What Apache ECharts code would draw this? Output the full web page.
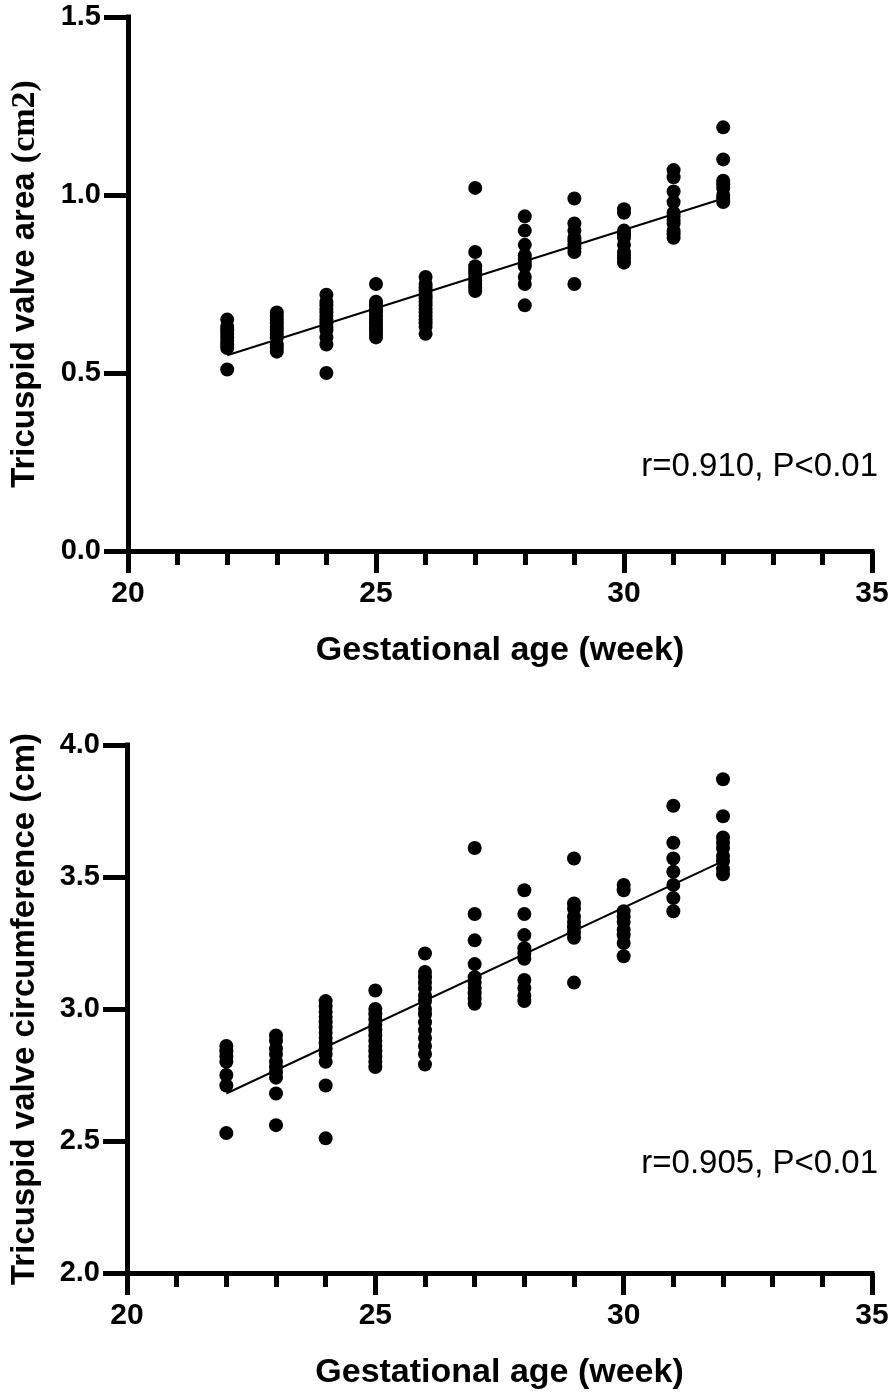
<!DOCTYPE html>
<html>
<head>
<meta charset="utf-8">
<script src="https://cdn.jsdelivr.net/npm/echarts@6/dist/echarts.min.js"></script>
<style>
html,body{margin:0;padding:0;background:#fff;}
#chart{width:894px;height:1398px;}
</style>
</head>
<body>
<div id="chart"></div>
<script>
// ---- data ----
const weeks = [22, 23, 24, 25, 26, 27, 28, 29, 30, 31, 32];
const xTicks = [20, 25, 30, 35];

// Tricuspid valve area (cm2), one list per gestational week
const areaValues = [
  [0.65, 0.63, 0.62, 0.61, 0.60, 0.59, 0.58, 0.57, 0.51],
  [0.67, 0.66, 0.65, 0.64, 0.63, 0.62, 0.61, 0.60, 0.58, 0.57, 0.56],
  [0.72, 0.70, 0.69, 0.68, 0.67, 0.66, 0.65, 0.64, 0.63, 0.62, 0.60, 0.58, 0.50],
  [0.75, 0.70, 0.69, 0.68, 0.67, 0.66, 0.65, 0.64, 0.63, 0.62, 0.61, 0.60],
  [0.77, 0.75, 0.74, 0.73, 0.72, 0.71, 0.70, 0.69, 0.68, 0.67, 0.66, 0.65, 0.64, 0.63, 0.61],
  [1.02, 0.84, 0.80, 0.79, 0.78, 0.77, 0.76, 0.75, 0.74, 0.73],
  [0.94, 0.90, 0.86, 0.83, 0.82, 0.81, 0.80, 0.77, 0.75, 0.69],
  [0.99, 0.92, 0.90, 0.88, 0.87, 0.86, 0.85, 0.84, 0.75],
  [0.96, 0.95, 0.90, 0.89, 0.88, 0.86, 0.84, 0.83, 0.82, 0.81],
  [1.07, 1.05, 1.01, 0.98, 0.95, 0.94, 0.93, 0.92, 0.90, 0.89, 0.88],
  [1.19, 1.10, 1.04, 1.03, 1.02, 1.00, 0.99, 0.98]
];

// Tricuspid valve circumference (cm), one list per gestational week
const circValues = [
  [2.86, 2.84, 2.82, 2.80, 2.75, 2.71, 2.53],
  [2.90, 2.88, 2.85, 2.83, 2.80, 2.78, 2.76, 2.74, 2.68, 2.56],
  [3.03, 3.01, 2.99, 2.97, 2.95, 2.93, 2.91, 2.89, 2.87, 2.85, 2.83, 2.80, 2.71, 2.51],
  [3.07, 3.00, 2.98, 2.96, 2.94, 2.92, 2.90, 2.88, 2.86, 2.84, 2.82, 2.80, 2.78],
  [3.21, 3.14, 3.12, 3.10, 3.08, 3.05, 3.03, 3.00, 2.98, 2.95, 2.92, 2.89, 2.86, 2.83, 2.79],
  [3.61, 3.36, 3.26, 3.17, 3.12, 3.10, 3.08, 3.06, 3.04, 3.02],
  [3.45, 3.36, 3.28, 3.23, 3.21, 3.19, 3.11, 3.08, 3.05, 3.03],
  [3.57, 3.40, 3.38, 3.35, 3.33, 3.31, 3.29, 3.27, 3.10],
  [3.47, 3.45, 3.37, 3.35, 3.33, 3.30, 3.28, 3.25, 3.20],
  [3.77, 3.63, 3.57, 3.52, 3.47, 3.42, 3.37],
  [3.87, 3.73, 3.65, 3.63, 3.61, 3.58, 3.56, 3.53, 3.51]
];

// regression line end points
const fitX = [22, 32];
const fitAreaY = [0.55, 0.99];
const fitCircY = [2.68, 3.56];

const statAreaText = 'r=0.910, P<0.01';
const statCircText = 'r=0.905, P<0.01';

// ---- build ----
function toPoints(values) {
  const pts = [];
  values.forEach((list, i) => list.forEach(v => pts.push([weeks[i], v])));
  return pts;
}
function toLine(ys) { return fitX.map((x, i) => [x, ys[i]]); }

const FONT = '"Liberation Sans", Arial, sans-serif';
const SERIF = '"Liberation Serif", "Times New Roman", serif';

function xAxisCfg(gridIndex) {
  return {
    type: 'value', gridIndex, min: xTicks[0], max: xTicks[xTicks.length - 1], interval: 5,
    axisLine: { show: true, onZero: false, lineStyle: { color: '#000', width: 5, cap: 'square' } },
    axisTick: { show: true, length: 22, lineStyle: { color: '#000', width: 5 } },
    minorTick: { show: true, splitNumber: 5, length: 14, lineStyle: { color: '#000', width: 5 } },
    splitLine: { show: false },
    axisLabel: { color: '#000', fontFamily: FONT, fontWeight: 'bold', fontSize: 30, margin: 28 },
    name: 'Gestational age (week)', nameLocation: 'middle', nameGap: 83,
    nameTextStyle: { color: '#000', fontFamily: FONT, fontWeight: 'bold', fontSize: 34 }
  };
}
function yAxisCfg(gridIndex, min, max, name, rich) {
  return {
    type: 'value', gridIndex, min, max, interval: 0.5,
    axisLine: { show: true, onZero: false, lineStyle: { color: '#000', width: 5, cap: 'square' } },
    axisTick: { show: true, length: 24, lineStyle: { color: '#000', width: 5 } },
    splitLine: { show: false },
    axisLabel: { color: '#000', fontFamily: FONT, fontWeight: 'bold', fontSize: 29, margin: 27,
      formatter: v => v.toFixed(1) },
    name, nameLocation: 'middle', nameGap: 86,
    nameTextStyle: { color: '#000', fontFamily: FONT, fontWeight: 'bold', fontSize: 33, rich }
  };
}

const chart = echarts.init(document.getElementById('chart'), null, { renderer: 'canvas' });
chart.setOption({
  backgroundColor: '#fff',
  animation: false,
  grid: [
    { left: 126, right: 22, top: 17, height: 534 },
    { left: 126, right: 22, top: 745, height: 528 }
  ],
  xAxis: [xAxisCfg(0), xAxisCfg(1)],
  yAxis: [
    yAxisCfg(0, 0, 1.5, '{s|Tricuspid valve area }{t|(cm2)}', {
      s: { fontFamily: FONT, fontWeight: 'bold', fontSize: 33, color: '#000' },
      t: { fontFamily: SERIF, fontWeight: 'bold', fontSize: 34, color: '#000' }
    }),
    yAxisCfg(1, 2, 4, 'Tricuspid valve circumference (cm)')
  ],
  series: [
    { type: 'scatter', xAxisIndex: 0, yAxisIndex: 0, data: toPoints(areaValues),
      symbol: 'circle', symbolSize: 14, itemStyle: { color: '#000', opacity: 1 }, z: 3 },
    { type: 'line', xAxisIndex: 0, yAxisIndex: 0, data: toLine(fitAreaY),
      symbol: 'none', lineStyle: { color: '#000', width: 2 }, z: 4 },
    { type: 'scatter', xAxisIndex: 1, yAxisIndex: 1, data: toPoints(circValues),
      symbol: 'circle', symbolSize: 14, itemStyle: { color: '#000', opacity: 1 }, z: 3 },
    { type: 'line', xAxisIndex: 1, yAxisIndex: 1, data: toLine(fitCircY),
      symbol: 'none', lineStyle: { color: '#000', width: 2 }, z: 4 }
  ],
  graphic: [
    { type: 'text', right: 16, top: 450,
      style: { text: statAreaText, fill: '#000', font: '33px ' + FONT } },
    { type: 'text', right: 16, top: 1147,
      style: { text: statCircText, fill: '#000', font: '33px ' + FONT } }
  ]
});
</script>
</body>
</html>
